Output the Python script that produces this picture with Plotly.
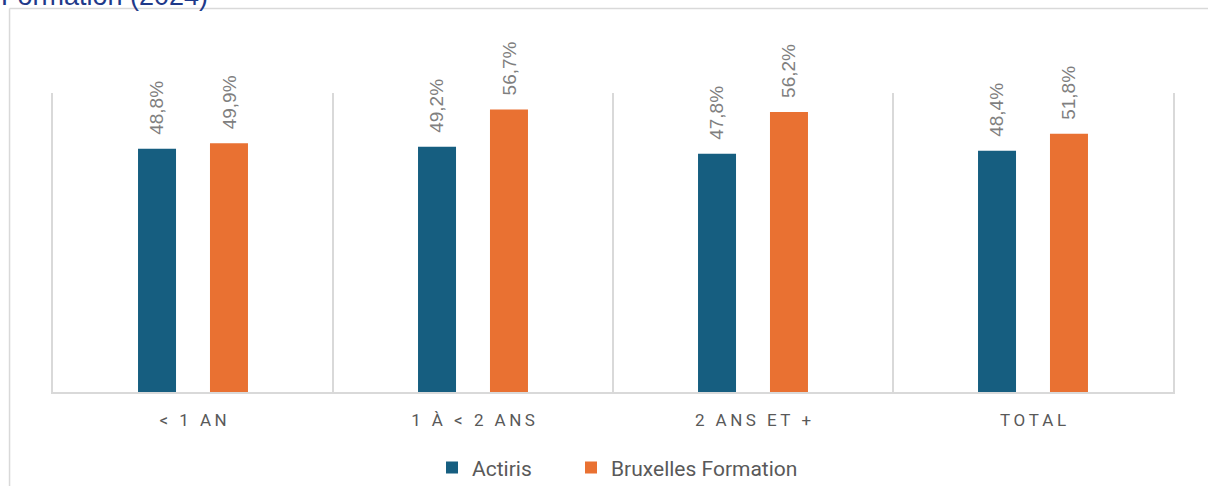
import plotly.graph_objects as go

# Durée d'inoccupation -> part de sorties positives, par organisme
categories = ["< 1 AN", "1 À < 2 ANS", "2 ANS ET +", "TOTAL"]
actiris = [48.8, 49.2, 47.8, 48.4]
bruxelles_formation = [49.9, 56.7, 56.2, 51.8]

series_names = ["Actiris", "Bruxelles Formation"]
series_colors = ["#165E80", "#E97132"]

title_text = "Formation (2024)"

BARGAP = 0.486
BARGROUPGAP = 0.472


def spaced(label):
    """Widen category labels with thin spaces between glyphs."""
    return "\u2009".join(label)


def fmt(v):
    return f"{v:.1f}".replace(".", ",") + "%"


fig = go.Figure()
all_series = [actiris, bruxelles_formation]
legend_ids = ["legend", "legend2"]
for name, values, color, lg in zip(series_names, all_series, series_colors, legend_ids):
    fig.add_trace(go.Bar(
        name=name,
        x=categories,
        y=values,
        marker=dict(color=color, line=dict(width=0)),
        legend=lg,
    ))

# value labels, rotated, above each bar (bar centres follow the group layout)
n_series = len(all_series)
slot = (1 - BARGAP) / n_series
annotations = []
for s, values in enumerate(all_series):
    offset = -(1 - BARGAP) / 2 + slot * (s + 0.5)
    for i, v in enumerate(values):
        annotations.append(dict(
            x=i + offset, y=v, xref="x", yref="y",
            text=fmt(v), textangle=-90,
            xanchor="center", yanchor="bottom", yshift=12,
            showarrow=False,
            font=dict(family="Liberation Sans, Arial, sans-serif", size=19, color="#7F7F7F"),
        ))

annotations.append(dict(
    text=title_text, xref="paper", yref="paper",
    x=-0.0482, xanchor="left", y=1.2682, yanchor="bottom",
    showarrow=False,
    font=dict(family="Liberation Sans, Arial, sans-serif", size=27, color="#1F3A8A"),
))

legend_style = dict(
    orientation="h",
    y=-0.254, yanchor="middle", xanchor="left",
    font=dict(family="Roboto, Liberation Sans, sans-serif", size=21, color="#595959"),
    itemwidth=30,
    bgcolor="rgba(0,0,0,0)",
)

fig.update_layout(
    width=1208,
    height=486,
    margin=dict(l=53, r=35, t=93, b=94, autoexpand=False),
    paper_bgcolor="white",
    plot_bgcolor="white",
    barmode="group",
    bargap=BARGAP,
    bargroupgap=BARGROUPGAP,
    showlegend=True,
    legend=dict(x=0.3384, **legend_style),
    legend2=dict(x=0.4625, **legend_style),
    xaxis=dict(
        type="category",
        tickmode="array",
        tickvals=categories,
        ticktext=[spaced(c) for c in categories],
        tickson="boundaries",
        ticks="",
        showgrid=True,
        gridcolor="#D9D9D9",
        gridwidth=1.5,
        showline=True,
        linecolor="#D9D9D9",
        linewidth=2,
        ticklabelstandoff=12,
        tickfont=dict(family="Liberation Sans Narrow, Roboto, sans-serif", size=17, color="#595959"),
        fixedrange=True,
    ),
    yaxis=dict(
        range=[0, 60],
        showticklabels=False,
        ticks="",
        showgrid=False,
        zeroline=False,
        showline=True,
        mirror=True,
        linecolor="#D9D9D9",
        linewidth=1.5,
        fixedrange=True,
    ),
    shapes=[
        # frame around the chart object
        dict(type="line", xref="paper", yref="paper",
             x0=-0.0388, x1=-0.0388, y0=1.2826, y1=-0.35,
             line=dict(color="#D9D9D9", width=1.5)),
        dict(type="line", xref="paper", yref="paper",
             x0=-0.0388, x1=1.035, y0=1.2826, y1=1.2826,
             line=dict(color="#D9D9D9", width=1.5)),
    ],
    annotations=annotations,
)

fig.write_html("out.html")
